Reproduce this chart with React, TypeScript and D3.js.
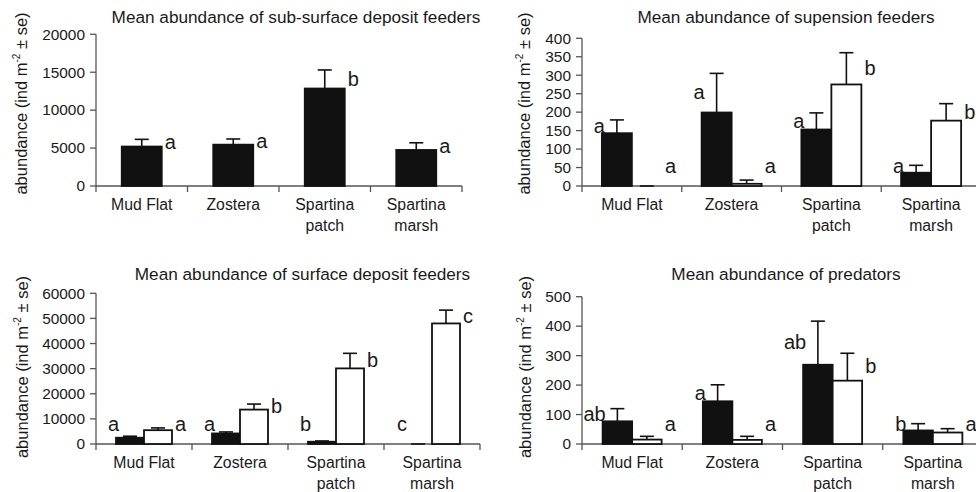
import React from "react";
import * as d3 from "d3";

// ---------- data ----------
const categories = ["Mud Flat", "Zostera", "Spartina patch", "Spartina marsh"];
const categoryLines = [["Mud Flat"], ["Zostera"], ["Spartina", "patch"], ["Spartina", "marsh"]];

const subSurfaceMean = [5200, 5450, 12850, 4750];
const subSurfaceSE = [950, 750, 2450, 950];
const subSurfaceLetters = ["a", "a", "b", "a"];

const suspensionBlackMean = [143, 199, 153, 36];
const suspensionBlackSE = [36, 106, 45, 20];
const suspensionWhiteMean = [0, 6, 275, 177];
const suspensionWhiteSE = [0, 10, 86, 46];
const suspensionBlackLetters = ["a", "a", "a", "a"];
const suspensionWhiteLetters = ["a", "a", "b", "b"];

const surfaceBlackMean = [2500, 4200, 900, 0];
const surfaceBlackSE = [600, 600, 300, 0];
const surfaceWhiteMean = [5500, 13700, 30100, 48000];
const surfaceWhiteSE = [900, 2200, 6000, 5300];
const surfaceBlackLetters = ["a", "a", "b", "c"];
const surfaceWhiteLetters = ["a", "b", "b", "c"];

const predatorBlackMean = [77, 145, 269, 46];
const predatorBlackSE = [43, 56, 148, 23];
const predatorWhiteMean = [15, 14, 215, 39];
const predatorWhiteSE = [11, 12, 93, 13];
const predatorBlackLetters = ["ab", "a", "ab", "b"];
const predatorWhiteLetters = ["a", "a", "b", "a"];

const titles = [
  "Mean abundance of sub-surface deposit feeders",
  "Mean abundance of supension feeders",
  "Mean abundance of surface deposit feeders",
  "Mean abundance of predators",
];
const yMax = [20000, 400, 60000, 500];
const yStep = [5000, 50, 10000, 100];

// ---------- styling ----------
const FONT = "'Liberation Sans', Arial, Helvetica, sans-serif";
const TEXT = "#1a1a1a";
const AXIS = "#555";
const BAR = "#111";

type Series = { mean: number[]; se: number[]; letters: string[]; fill: string };

type PanelProps = {
  title: string;
  titleX: number;
  titleY: number;
  xL: number;
  xR: number;
  y0: number;
  yT: number;
  max: number;
  step: number;
  barW: number;
  labelX: number;
  labelY: number;
  series: Series[];
};

function Panel(p: PanelProps) {
  const x = d3.scaleBand<string>().domain(categories).range([p.xL, p.xR]).padding(0);
  const y = d3.scaleLinear().domain([0, p.max]).range([p.y0, p.yT]);
  const ticks = d3.range(0, p.max + p.step / 2, p.step);
  const fmt = d3.format("d");
  const n = p.series.length;
  const groupW = p.barW * n;
  const bw = x.bandwidth();
  const boundaries = categories.map((c) => x(c) as number).concat([p.xR]);

  return (
    <g>
      <text x={p.titleX} y={p.titleY} textAnchor="middle" fontSize={17.2} fill={TEXT} fontFamily={FONT}>
        {p.title}
      </text>
      <text
        transform={`translate(${p.labelX},${p.labelY}) rotate(-90)`}
        textAnchor="middle"
        fontSize={16.5}
        fill={TEXT}
        fontFamily={FONT}
      >
        abundance (ind m
        <tspan fontSize={10} dy={-7}>-2</tspan>
        <tspan dy={7}> ± se)</tspan>
      </text>
      {/* y axis */}
      <line x1={p.xL} x2={p.xL} y1={p.y0} y2={p.yT} stroke={AXIS} strokeWidth={1.3} />
      {ticks.map((t) => (
        <g key={t}>
          <line x1={p.xL - 6} x2={p.xL} y1={y(t)} y2={y(t)} stroke={AXIS} strokeWidth={1.3} />
          <text x={p.xL - 11} y={y(t) + 5.3} textAnchor="end" fontSize={15.4} fill={TEXT} fontFamily={FONT}>
            {fmt(t)}
          </text>
        </g>
      ))}
      {/* x axis */}
      <line x1={p.xL} x2={p.xR} y1={p.y0} y2={p.y0} stroke={AXIS} strokeWidth={1.3} />
      {boundaries.map((b, i) => (
        <line key={i} x1={b} x2={b} y1={p.y0} y2={p.y0 + 6} stroke={AXIS} strokeWidth={1.3} />
      ))}
      {categories.map((c, ci) => (
        <text key={c} textAnchor="middle" fontSize={15.8} fill={TEXT} fontFamily={FONT}>
          {categoryLines[ci].map((ln, li) => (
            <tspan key={li} x={(x(c) as number) + bw / 2} y={p.y0 + 24 + li * 21}>
              {ln}
            </tspan>
          ))}
        </text>
      ))}
      {/* bars */}
      {categories.map((c, ci) => {
        const start = (x(c) as number) + bw / 2 - groupW / 2;
        return (
          <g key={c}>
            {p.series.map((s, si) => {
              const bx = start + si * p.barW;
              const m = s.mean[ci];
              const top = m + s.se[ci];
              const cx = bx + p.barW / 2;
              const h = p.y0 - y(m);
              const mid = y((m + top) / 2);
              const cy = Math.min(mid, p.y0 - 20);
              const isLeft = n > 1 && si === 0;
              return (
                <g key={si}>
                  {h > 0 && (
                    <rect
                      x={bx}
                      y={y(m)}
                      width={p.barW}
                      height={h}
                      fill={s.fill}
                      stroke={BAR}
                      strokeWidth={1.8}
                    />
                  )}
                  <line x1={cx} x2={cx} y1={y(m)} y2={y(top)} stroke={BAR} strokeWidth={1.6} />
                  <line x1={cx - 7} x2={cx + 7} y1={y(top)} y2={y(top)} stroke={BAR} strokeWidth={1.6} />
                  <text
                    x={isLeft ? bx + 3 : bx + p.barW + 3}
                    y={cy + 6.5}
                    textAnchor={isLeft ? "end" : "start"}
                    fontSize={20}
                    fill={TEXT}
                    fontFamily={FONT}
                  >
                    {s.letters[ci]}
                  </text>
                </g>
              );
            })}
          </g>
        );
      })}
    </g>
  );
}

export default function App() {
  return (
    <svg
      width={976}
      height={492}
      viewBox="0 0 976 492"
      style={{ position: "absolute", left: 0, top: 0, background: "#fff" }}
    >
      <rect width={976} height={492} fill="#fff" />
      <Panel
        title={titles[0]}
        titleX={296}
        titleY={23}
        xL={96}
        xR={462}
        y0={186}
        yT={34.3}
        max={yMax[0]}
        step={yStep[0]}
        barW={40}
        labelX={27}
        labelY={103.5}
        series={[{ mean: subSurfaceMean, se: subSurfaceSE, letters: subSurfaceLetters, fill: BAR }]}
      />
      <Panel
        title={titles[1]}
        titleX={786}
        titleY={23}
        xL={582}
        xR={981}
        y0={186}
        yT={38.3}
        max={yMax[1]}
        step={yStep[1]}
        barW={30}
        labelX={530}
        labelY={103.5}
        series={[
          { mean: suspensionBlackMean, se: suspensionBlackSE, letters: suspensionBlackLetters, fill: BAR },
          { mean: suspensionWhiteMean, se: suspensionWhiteSE, letters: suspensionWhiteLetters, fill: "#fff" },
        ]}
      />
      <Panel
        title={titles[2]}
        titleX={302.5}
        titleY={280}
        xL={96}
        xR={480}
        y0={444}
        yT={293.3}
        max={yMax[2]}
        step={yStep[2]}
        barW={28}
        labelX={28}
        labelY={367}
        series={[
          { mean: surfaceBlackMean, se: surfaceBlackSE, letters: surfaceBlackLetters, fill: BAR },
          { mean: surfaceWhiteMean, se: surfaceWhiteSE, letters: surfaceWhiteLetters, fill: "#fff" },
        ]}
      />
      <Panel
        title={titles[3]}
        titleX={786}
        titleY={280}
        xL={582}
        xR={983}
        y0={444}
        yT={296.7}
        max={yMax[3]}
        step={yStep[3]}
        barW={29.5}
        labelX={531}
        labelY={367}
        series={[
          { mean: predatorBlackMean, se: predatorBlackSE, letters: predatorBlackLetters, fill: BAR },
          { mean: predatorWhiteMean, se: predatorWhiteSE, letters: predatorWhiteLetters, fill: "#fff" },
        ]}
      />
    </svg>
  );
}
